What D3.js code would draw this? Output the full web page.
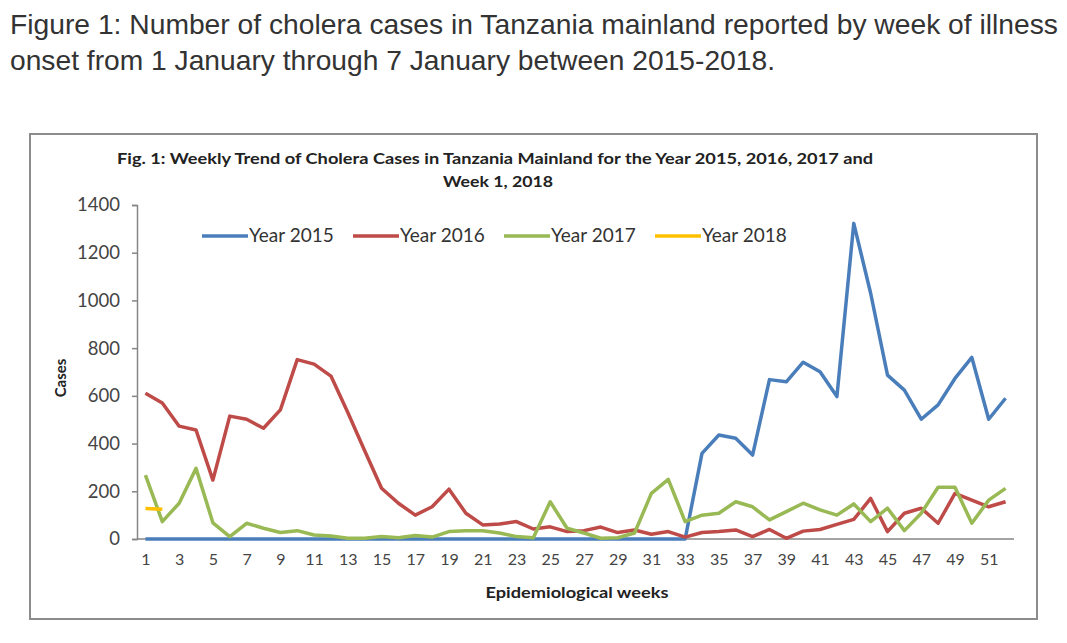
<!DOCTYPE html>
<html>
<head>
<meta charset="utf-8">
<script src="https://cdn.jsdelivr.net/npm/d3@7"></script>
<style>
  body { margin: 0; background: #fff; }
  svg { display: block; }
</style>
</head>
<body>
<div id="container"></div>
<script>
/* CONSTANTS AND GLOBALS */
const width = 1067,
  height = 643;

/* DATA */
const weeks = d3.range(1, 53);
const tickWeeks = [1, 3, 5, 7, 9, 11, 13, 15, 17, 19, 21, 23, 25, 27, 29, 31, 33, 35, 37, 39, 41, 43, 45, 47, 49, 51];
const yTicks = [0, 200, 400, 600, 800, 1000, 1200, 1400];
const seriesNames = ["Year 2015", "Year 2016", "Year 2017", "Year 2018"];
const seriesColors = ["#4a7ebb", "#be4b48", "#98b954", "#ffc000"];

const year2015 = [0, 0, 0, 0, 0, 0, 0, 0, 0, 0,
  0, 0, 0, 0, 0, 0, 0, 0, 0, 0,
  0, 0, 0, 0, 0, 0, 0, 0, 0, 0,
  0, 0, 0, 359, 436, 422, 352, 668, 659, 741,
  701, 597, 1323, 1030, 687, 624, 502, 562, 673, 761,
  502, 590];
const year2016 = [611, 570, 473, 457, 247, 515, 502, 464, 541, 752,
  733, 683, 530, 370, 213, 150, 100, 135, 209, 108,
  59, 63, 73, 42, 51, 31, 35, 50, 27, 38,
  20, 31, 8, 27, 31, 38, 10, 40, 3, 33,
  40, 61, 82, 170, 31, 108, 129, 66, 191, 163,
  135, 156];
const year2017 = [268, 73, 150, 296, 68, 10, 66, 45, 27, 35,
  17, 13, 3, 3, 10, 5, 15, 8, 31, 35,
  35, 25, 10, 5, 156, 45, 25, 3, 5, 25,
  191, 250, 73, 100, 108, 156, 135, 80, 115, 150,
  122, 100, 147, 73, 129, 35, 108, 217, 217, 66,
  163, 212];
const year2018 = [128, 125];

const allSeries = [year2015, year2016, year2017, year2018];

const svg = d3.select("#container")
  .append("svg")
  .attr("width", width)
  .attr("height", height);

// page caption above the picture
const caption = svg.append("g")
  .attr("font-family", "Liberation Sans, Arial, sans-serif")
  .attr("font-size", 28)
  .attr("fill", "#333");
caption.append("text").attr("x", 10).attr("y", 34)
  .attr("textLength", 1048).attr("lengthAdjust", "spacingAndGlyphs")
  .text("Figure 1: Number of cholera cases in Tanzania mainland reported by week of illness");
caption.append("text").attr("x", 10).attr("y", 70)
  .attr("textLength", 765).attr("lengthAdjust", "spacingAndGlyphs")
  .text("onset from 1 January through 7 January between 2015-2018.");

// chart frame
svg.append("rect")
  .attr("x", 30).attr("y", 134)
  .attr("width", 1007).attr("height", 485)
  .attr("fill", "#fff")
  .attr("stroke", "#8c8c8c")
  .attr("stroke-width", 2);

const chartFont = "Lato, 'Open Sans', sans-serif";

// chart title (the picture is stretched sideways, so fit the widths)
const title = svg.append("g")
  .attr("font-family", chartFont)
  .attr("font-weight", "bold")
  .attr("font-size", 15.5)
  .attr("fill", "#222");
title.append("text").attr("x", 117).attr("y", 164)
  .attr("textLength", 756).attr("lengthAdjust", "spacingAndGlyphs")
  .text("Fig. 1: Weekly Trend of Cholera Cases in Tanzania Mainland for the Year 2015, 2016, 2017 and");
title.append("text").attr("x", 443).attr("y", 187)
  .attr("textLength", 110).attr("lengthAdjust", "spacingAndGlyphs")
  .text("Week 1, 2018");

/* SCALES */
const xScale = d3.scalePoint()
  .domain(weeks)
  .range([137, 1014])
  .padding(0.5);

const yScale = d3.scaleLinear()
  .domain([0, 1400])
  .range([539, 205]);

/* AXES */
const yAxis = d3.axisLeft(yScale)
  .tickValues(yTicks)
  .tickFormat(d3.format("d"))
  .tickSize(5)
  .tickPadding(12);

const yAxisGroup = svg.append("g")
  .attr("transform", `translate(${137}, 0)`)
  .call(yAxis);
yAxisGroup.select(".domain").attr("stroke", "#868686").attr("stroke-width", 1.5);
yAxisGroup.selectAll(".tick line").attr("stroke", "#868686").attr("stroke-width", 1.5);
yAxisGroup.selectAll(".tick text")
  .attr("font-family", chartFont)
  .attr("font-size", 18.5)
  .attr("fill", "#444");

const xAxis = d3.axisBottom(xScale)
  .tickValues(tickWeeks)
  .tickSize(0)
  .tickPadding(15);

const xAxisGroup = svg.append("g")
  .attr("transform", `translate(0, ${539})`)
  .call(xAxis);
xAxisGroup.select(".domain")
  .attr("d", "M137,0H1014")
  .attr("stroke", "#868686").attr("stroke-width", 1.5);
xAxisGroup.selectAll(".tick text")
  .attr("font-family", chartFont)
  .attr("font-size", 16)
  .attr("fill", "#444");

// axis titles
svg.append("text")
  .attr("transform", `translate(66, 378) rotate(-90)`)
  .attr("text-anchor", "middle")
  .attr("font-family", chartFont)
  .attr("font-weight", "bold")
  .attr("font-size", 15)
  .attr("fill", "#222")
  .text("Cases");

svg.append("text")
  .attr("x", 577).attr("y", 598)
  .attr("text-anchor", "middle")
  .attr("font-family", chartFont)
  .attr("font-weight", "bold")
  .attr("font-size", 16)
  .attr("textLength", 183).attr("lengthAdjust", "spacingAndGlyphs")
  .attr("fill", "#222")
  .text("Epidemiological weeks");

/* LINES */
const line = d3.line()
  .x((d, i) => xScale(weeks[i]))
  .y(d => yScale(d));

svg.selectAll("path.series")
  .data(allSeries)
  .join("path")
  .attr("class", "series")
  .attr("d", d => line(d))
  .attr("fill", "none")
  .attr("stroke", (d, i) => seriesColors[i])
  .attr("stroke-width", 3.5)
  .attr("stroke-linejoin", "round");

/* LEGEND */
const legend = svg.append("g")
  .selectAll("g")
  .data(seriesNames)
  .join("g")
  .attr("transform", (d, i) => `translate(${202 + i * 151}, ${236})`);

legend.append("line")
  .attr("x1", 0).attr("x2", 46)
  .attr("stroke", (d, i) => seriesColors[i])
  .attr("stroke-width", 3.5);

legend.append("text")
  .attr("x", 47).attr("y", 6)
  .attr("font-family", chartFont)
  .attr("font-size", 19)
  .attr("fill", "#333")
  .text(d => d);
</script>
</body>
</html>
